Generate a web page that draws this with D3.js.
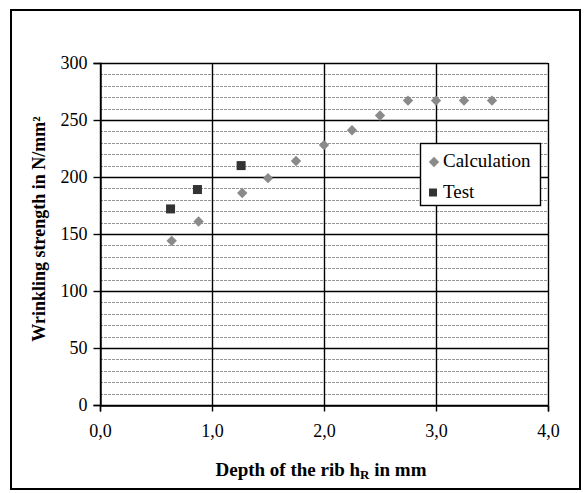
<!DOCTYPE html>
<html><head><meta charset="utf-8">
<script src="https://cdn.jsdelivr.net/npm/d3@7"></script>
</head><body style="margin:0">
<svg id="c" width="586" height="493" font-family="Liberation Serif"></svg>
<script>
const calcX = [0.64,0.88,1.27,1.5,1.75,2.0,2.25,2.5,2.75,3.0,3.25,3.5];
const calcY = [144,161,186,199,214,228,241,254,267,267,267,267];
const testX = [0.63,0.87,1.26];
const testY = [172,189,210];
const xTicks = [0,1,2,3,4];
const yTicks = [0,50,100,150,200,250,300];
const yMinor = d3.range(0,301,10);
const seriesNames = ["Calculation","Test"];

const svg = d3.select("#c");
const L=100,R=548,T=63,B=405;
const x = d3.scaleLinear().domain([0,4]).range([L,R]);
const y = d3.scaleLinear().domain([0,300]).range([B,T]);
const diamond = "M0,-5.2L5.2,0L0,5.2L-5.2,0Z";

svg.append("rect").attr("x",11).attr("y",10).attr("width",569).attr("height",479)
  .attr("fill","none").attr("stroke","#000").attr("stroke-width",2);

svg.append("g").selectAll("line").data(yMinor.filter(v=>v%50!==0)).join("line")
  .attr("x1",L).attr("x2",R).attr("y1",d=>Math.round(y(d))+0.5).attr("y2",d=>Math.round(y(d))+0.5)
  .attr("stroke","#949494").attr("stroke-width",1).attr("stroke-dasharray","3,1");

svg.append("g").selectAll("line").data(yTicks).join("line")
  .attr("x1",L).attr("x2",R).attr("y1",d=>Math.round(y(d))+0.5).attr("y2",d=>Math.round(y(d))+0.5)
  .attr("stroke","#000").attr("stroke-width",1.4);
svg.append("g").selectAll("line").data(xTicks).join("line")
  .attr("x1",d=>Math.round(x(d))+0.5).attr("x2",d=>Math.round(x(d))+0.5).attr("y1",T).attr("y2",B)
  .attr("stroke","#000").attr("stroke-width",1.4);

const yAxis = d3.axisLeft(y).tickValues(yTicks).tickSize(7).tickPadding(6);
const gy = svg.append("g").attr("transform",`translate(${L+0.5},0)`).call(yAxis);
const xAxis = d3.axisBottom(x).tickValues(xTicks).tickSize(6).tickPadding(13).tickFormat(d=>d3.format(".1f")(d).replace(".",","));
const gx = svg.append("g").attr("transform",`translate(0,${B+0.5})`).call(xAxis);
[gx,gy].forEach(g=>{
  g.attr("font-family",null).attr("font-size",18);
  g.select(".domain").attr("stroke","#000").attr("stroke-width",1.4);
  g.selectAll(".tick line").attr("stroke","#000").attr("stroke-width",1.4);
  g.selectAll("text").attr("fill","#000");
});

svg.append("g").selectAll("path").data(calcX.map((v,i)=>[v,calcY[i]])).join("path")
  .attr("d",diamond)
  .attr("transform",d=>`translate(${x(d[0])},${y(d[1])})`)
  .attr("fill","#8a8a8a");
svg.append("g").selectAll("rect").data(testX.map((v,i)=>[v,testY[i]])).join("rect")
  .attr("x",d=>x(d[0])-4.5).attr("y",d=>y(d[1])-4.5).attr("width",9).attr("height",9)
  .attr("fill","#333");

const lg = svg.append("g");
lg.append("rect").attr("x",420.5).attr("y",143.5).attr("width",120).attr("height",62)
  .attr("fill","#fff").attr("stroke","#000").attr("stroke-width",1.4);
lg.append("path").attr("d",diamond)
  .attr("transform","translate(434,162)").attr("fill","#8a8a8a");
lg.append("rect").attr("x",429).attr("y",188.5).attr("width",8).attr("height",8).attr("fill","#333");
lg.selectAll("text").data(seriesNames).join("text")
  .attr("x",443).attr("y",(d,i)=>167+i*31)
  .attr("font-size",19).attr("fill","#000").text(d=>d);

const xt = svg.append("text").attr("x",321).attr("y",476).attr("text-anchor","middle")
  .attr("font-size",19).attr("font-weight","bold");
xt.append("tspan").text("Depth of the rib h");
xt.append("tspan").attr("font-size",13).attr("dy",3).text("R");
xt.append("tspan").attr("dy",-3).text(" in mm");

svg.append("text").attr("transform","translate(45,229) rotate(-90)").attr("text-anchor","middle")
  .attr("font-size",18).attr("font-weight","bold")
  .text("Wrinkling strength in N/mm²");
</script>
</body></html>
